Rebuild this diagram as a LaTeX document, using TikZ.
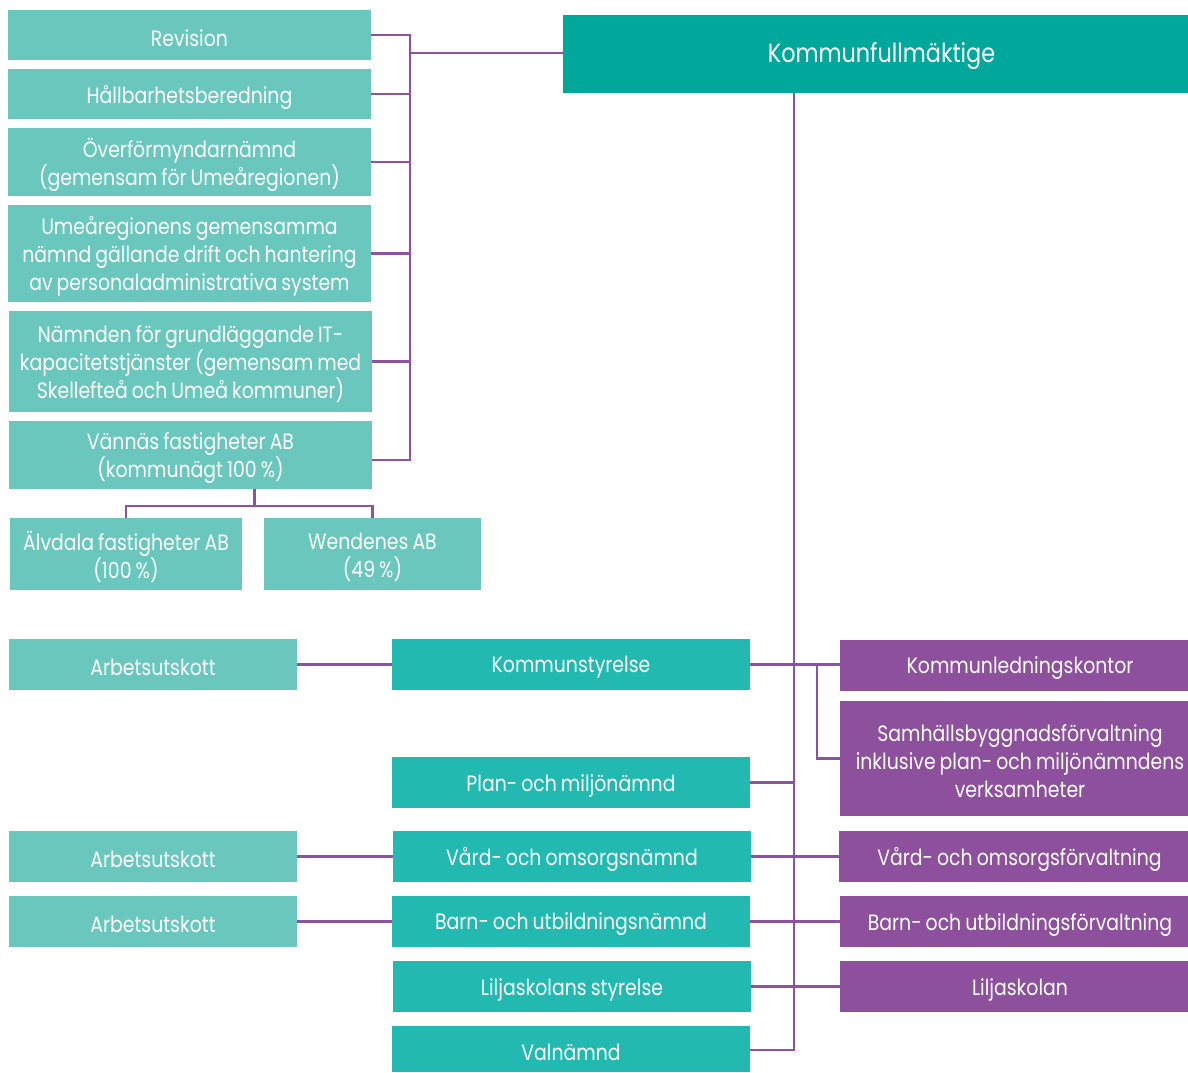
\documentclass[tikz,border=0pt]{standalone}
\usepackage{fontspec}
\setmainfont{Poppins}[FakeStretch=0.85, WordSpace=0.8]
\definecolor{lteal}{HTML}{6AC7BE}
\definecolor{mteal}{HTML}{22B9B1}
\definecolor{dteal}{HTML}{00A89C}
\definecolor{purp}{HTML}{8C509D}
\definecolor{lpurp}{HTML}{8D52A1}
\begin{document}
\begin{tikzpicture}[x=1pt,y=-1pt,
  box/.style={rectangle, inner sep=0pt, outer sep=0pt},
  tx/.style={inner sep=0pt, align=center, text=white, yshift=-3pt,
    font=\fontsize{22.2}{28}\selectfont},
  rtx/.style={tx, xshift=6pt},
  lt/.style={box, fill=lteal},
  mt/.style={box, fill=mteal},
  pu/.style={box, fill=purp},
  conn/.style={draw=lpurp, line width=2.5pt}]
\path[use as bounding box] (0,0) rectangle (1188,1072);
% left column
\node[lt, minimum width=363pt, minimum height=50pt, label={[tx]center:{Revision}}] (rev) at (189.5,35) {};
\node[lt, minimum width=363pt, minimum height=50pt, label={[tx]center:{Hållbarhetsberedning}}] (hal) at (189.5,94) {};
\node[lt, minimum width=363pt, minimum height=68pt, label={[tx]center:{Överförmyndarnämnd\\(gemensam för Umeåregionen)}}] (ovf) at (189.5,162) {};
\node[lt, minimum width=363pt, minimum height=97pt, label={[tx]center:{Umeåregionens gemensamma\\nämnd gällande drift och hantering\\av personaladministrativa system}}] (ume) at (189.5,253.5) {};
\node[lt, minimum width=363pt, minimum height=101pt, label={[tx]center:{Nämnden för grundläggande IT-\\kapacitetstjänster (gemensam med\\Skellefteå och Umeå kommuner)}}] (nam) at (190.5,361.5) {};
\node[lt, minimum width=363pt, minimum height=68pt, label={[tx]center:{Vännäs fastigheter AB\\(kommunägt 100 \%)}}] (van) at (190.5,455) {};
\node[lt, minimum width=232pt, minimum height=72pt, label={[tx]center:{Älvdala fastigheter AB\\(100 \%)}}] (alv) at (126,554) {};
\node[lt, minimum width=217pt, minimum height=72pt, label={[tx]center:{Wendenes AB\\(49 \%)}}] (wen) at (372.5,554) {};
% top
\node[box, fill=dteal, minimum width=625pt, minimum height=78pt, label={[rtx, yshift=1pt, font=\fontsize{26.3}{32}\selectfont]center:{Kommunfullmäktige}}] (kf) at (875.5,54) {};
% lower left
\node[lt, minimum width=288pt, minimum height=51pt, label={[tx]center:{Arbetsutskott}}] (au1) at (153,664.5) {};
\node[lt, minimum width=288pt, minimum height=51pt, label={[tx]center:{Arbetsutskott}}] (au2) at (153,856.5) {};
\node[lt, minimum width=288pt, minimum height=51pt, label={[tx]center:{Arbetsutskott}}] (au3) at (153,921.5) {};
% middle column
\node[mt, minimum width=358pt, minimum height=51pt, label={[tx]center:{Kommunstyrelse}}] (ks) at (571,664.5) {};
\node[mt, minimum width=358pt, minimum height=51pt, label={[tx]center:{Plan- och miljönämnd}}] (pm) at (571,782.5) {};
\node[mt, minimum width=358pt, minimum height=51pt, label={[tx]center:{Vård- och omsorgsnämnd}}] (vo) at (572,856.5) {};
\node[mt, minimum width=358pt, minimum height=51pt, label={[tx]center:{Barn- och utbildningsnämnd}}] (bu) at (571,921.5) {};
\node[mt, minimum width=358pt, minimum height=51pt, label={[tx]center:{Liljaskolans styrelse}}] (ls) at (572,986.5) {};
\node[mt, minimum width=358pt, minimum height=46pt, label={[tx]center:{Valnämnd}}] (val) at (571,1049) {};
% right column
\node[pu, minimum width=348pt, minimum height=51pt, label={[rtx]center:{Kommunledningskontor}}] (klk) at (1014,665.5) {};
\node[pu, minimum width=348pt, minimum height=115pt, label={[rtx]center:{Samhällsbyggnadsförvaltning\\inklusive plan- och miljönämndens\\verksamheter}}] (sbf) at (1014,758.5) {};
\node[pu, minimum width=349pt, minimum height=51pt, label={[rtx]center:{Vård- och omsorgsförvaltning}}] (vof) at (1013.5,856.5) {};
\node[pu, minimum width=348pt, minimum height=51pt, label={[rtx]center:{Barn- och utbildningsförvaltning}}] (buf) at (1014,921.5) {};
\node[pu, minimum width=348pt, minimum height=51pt, label={[rtx]center:{Liljaskolan}}] (lsk) at (1014,986.5) {};
% connectors: left bus
\coordinate (ltop) at (410,35);
\coordinate (lbot) at (410,460);
\draw[conn] (rev.east) -- (ltop) -- (lbot) -- (lbot -| van.east);
\draw[conn] (hal.east) -- (hal.east -| ltop);
\draw[conn] (ovf.east) -- (ovf.east -| ltop);
\draw[conn] (ume.east) -- (ume.east -| ltop);
\draw[conn] (nam.east) -- (nam.east -| ltop);
\draw[conn] (kf.west |- 0,53) -- (ltop |- 0,53);
% Vännäs children
\coordinate (vj) at (254.5,506);
\draw[conn] (vj |- van.south) -- (vj);
\draw[conn] (alv.north) |- (vj) -| (wen.north);
% main bus
\coordinate (mtop) at (794,93);
\coordinate (mbot) at (794,1050);
\draw[conn] (mtop) -- (mbot) -- (mbot -| val.east);
\draw[conn] (ks.east) -- (ks.east -| klk.west);
\coordinate (sj) at (817,665);
\draw[conn] (sj) |- (sbf.west);
\draw[conn] (pm.east) -- (pm.east -| mtop);
\draw[conn] (vo.east) -- (vof.west);
\draw[conn] (bu.east) -- (buf.west);
\draw[conn] (ls.east) -- (lsk.west);
% Arbetsutskott links
\draw[conn] (au1.east) -- (ks.west);
\draw[conn] (au2.east) -- (vo.west);
\draw[conn] (au3.east) -- (bu.west);
\end{tikzpicture}
\end{document}
